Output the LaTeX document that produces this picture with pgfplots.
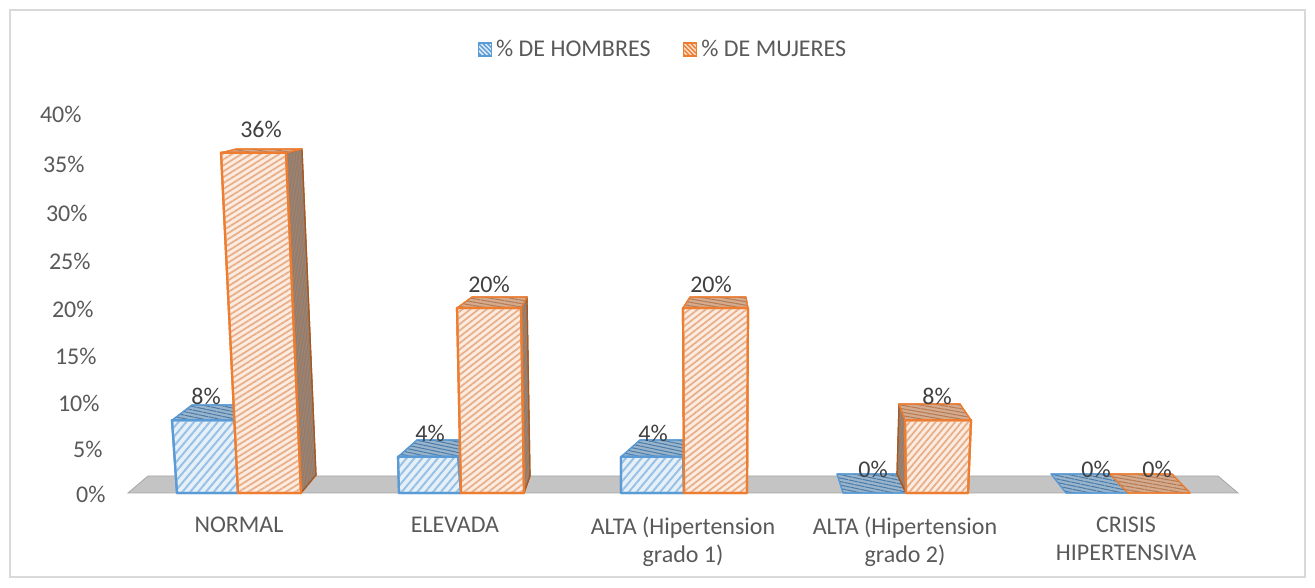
\documentclass[border=0pt]{standalone}
\usepackage{fontspec}
\setmainfont{Carlito}
\usepackage{pgfplots}
\pgfplotsset{compat=1.18}
\usetikzlibrary{patterns.meta}
\definecolor{hblue}{HTML}{5B9BD5}
\definecolor{horange}{HTML}{ED7D31}
\definecolor{txt}{HTML}{595959}
\definecolor{lbl}{HTML}{404040}
\definecolor{frame}{HTML}{D9D9D9}
\definecolor{floor}{HTML}{C4C4C4}
\definecolor{ohatch}{HTML}{E8B08A}
\tikzset{
  bfront/.style={draw=hblue,line width=1.1pt,line join=round,preaction={fill=white!85!hblue},
    pattern={Lines[angle=50,distance=3pt,line width=1pt]},pattern color=hblue!62!white},
  btop/.style={draw=hblue,line width=.6pt,line join=round,preaction={fill=hblue!40!floor},
    pattern={Lines[angle=-12,distance=1.7pt,line width=.5pt]},pattern color=hblue!80!black},
  ofront/.style={draw=horange,line width=1.1pt,line join=round,preaction={fill=horange!15!white},
    pattern={Lines[angle=#1,distance=2.5pt,line width=.9pt]},pattern color=ohatch},
  ofront/.default=50,
  otop/.style={draw=horange,line width=.6pt,line join=round,preaction={fill=horange!35!floor},
    pattern={Lines[angle=-10,distance=1.7pt,line width=.5pt]},pattern color=horange!70!black!80!white},
  oside/.style={draw=horange!70!black,line width=.6pt,line join=round,preaction={fill=horange!35!gray},
    pattern={Lines[angle=80,distance=1.5pt,line width=.5pt]},pattern color=black!50},
  bleg/.style={draw=hblue,line width=.9pt,preaction={fill=white!80!hblue},
    pattern={Lines[angle=-45,distance=1.6pt,line width=.7pt]},pattern color=hblue},
  oleg/.style={draw=horange,line width=.9pt,preaction={fill=horange!25!white},
    pattern={Lines[angle=-45,distance=1.6pt,line width=.7pt]},pattern color=horange},
}
\begin{document}
\begin{tikzpicture}
\useasboundingbox (-5pt,-5.5pt) rectangle (652.5pt,288.5pt);
\begin{axis}[
  scale only axis,width=647.5pt,height=283.5pt,
  xmin=10,xmax=1305,ymin=-9.46,ymax=50.17,
  y coord trafo/.code={\pgfmathparse{#1*(9+0.0125*#1)}},
  no markers,clip=false,
  axis line style={frame,line width=.6pt},
  major tick length=0pt,
  font=\fontsize{12}{14}\selectfont,
  /pgf/number format/assume math mode=true,
  ytick={0,5,10,15,20,25,30,35,40},
  yticklabels={0\%,5\%,10\%,15\%,20\%,25\%,30\%,35\%,40\%},
  yticklabel style={text=txt,anchor=east,xshift={51.3pt-1.5pt*\ticknum},yshift=-.7pt},
  xtick={239,455,683,905,1126},
  xticklabels={NORMAL,ELEVADA,{ALTA (Hipertension\\grado 1)},{ALTA (Hipertension\\grado 2)},{CRISIS\\HIPERTENSIVA}},
  xticklabel style={text=txt,align=center,anchor=north,yshift=33.5pt},
  legend style={at={(0.505,0.930)},anchor=center,draw=none,fill=none,
    legend columns=2,text=txt,font=\fontsize{12}{14}\selectfont,
    /tikz/every even column/.append style={column sep=14pt}},
  legend image code/.code={\draw[#1] (0pt,-3pt) rectangle (6.5pt,3.5pt);},
]
\addlegendimage{bleg}
\addlegendentry{\% DE HOMBRES}
\addlegendimage{oleg}
\addlegendentry{\% DE MUJERES}

% floor
\addplot[fill=floor,draw=floor!85!black,line width=.4pt] coordinates {(128,0) (148,1.884) (1218,1.884) (1238,0)} --cycle;

% NORMAL
\addplot[btop] coordinates {(172,8) (192,9.648) (240,9.648) (240,8)} --cycle;
\addplot[bfront] coordinates {(177,0) (172,8) (236,8) (238,0)} --cycle;
\addplot[oside] coordinates {(286,36) (302,36.38) (316,1.994) (301,0)} --cycle;
\addplot[otop] coordinates {(221,36) (236,36.38) (302,36.38) (286,36)} --cycle;
\addplot[ofront=32] coordinates {(238,0) (301,0) (286,36) (221,36)} --cycle;

% ELEVADA
\addplot[btop] coordinates {(398,4) (417,5.842) (462,5.842) (462,4)} --cycle;
\addplot[bfront] coordinates {(399,0) (398,4) (458,4) (461,0)} --cycle;
\addplot[oside] coordinates {(521,20) (527,21.156) (530,1.884) (524,0)} --cycle;
\addplot[otop] coordinates {(457,20) (472,21.156) (527,21.156) (521,20)} --cycle;
\addplot[ofront=38] coordinates {(461,0) (524,0) (521,20) (457,20)} --cycle;

% ALTA grado 1
\addplot[btop] coordinates {(621,4) (640,5.842) (685,5.842) (685,4)} --cycle;
\addplot[bfront] coordinates {(621,0) (621,4) (683,4) (684,0)} --cycle;
\addplot[otop] coordinates {(683,20) (690,21.156) (746,21.156) (748,20)} --cycle;
\addplot[ofront=38] coordinates {(684,0) (747,0) (748,20) (683,20)} --cycle;

% ALTA grado 2
\addplot[btop] coordinates {(837,2.105) (897,2.105) (906,0) (843,0)} --cycle;
\addplot[oside] coordinates {(899,9.757) (905,8) (906,0) (897,2.105)} --cycle;
\addplot[otop] coordinates {(905,8) (899,9.757) (960,9.757) (971,8)} --cycle;
\addplot[ofront=50] coordinates {(906,0) (968,0) (971,8) (905,8)} --cycle;

% CRISIS
\addplot[btop] coordinates {(1051,2.105) (1110,2.105) (1128,0) (1066,0)} --cycle;
\addplot[otop] coordinates {(1110,2.105) (1172,2.105) (1190,0) (1128,0)} --cycle;

% data labels
\addplot[draw=none,point meta=explicit,
  nodes near coords={\pgfmathprintnumber{\pgfplotspointmeta}\%},
  nodes near coords style={anchor=center,yshift=11.7pt,text=lbl,inner sep=0pt}]
  coordinates {
  (206,8) [8] (261,36) [36]
  (430,4) [4] (489,20) [20]
  (653,4) [4] (711,20) [20]
  (873,0) [0] (937,8) [8]
  (1096,0) [0] (1157,0) [0]
};
\end{axis}
\end{tikzpicture}
\end{document}
